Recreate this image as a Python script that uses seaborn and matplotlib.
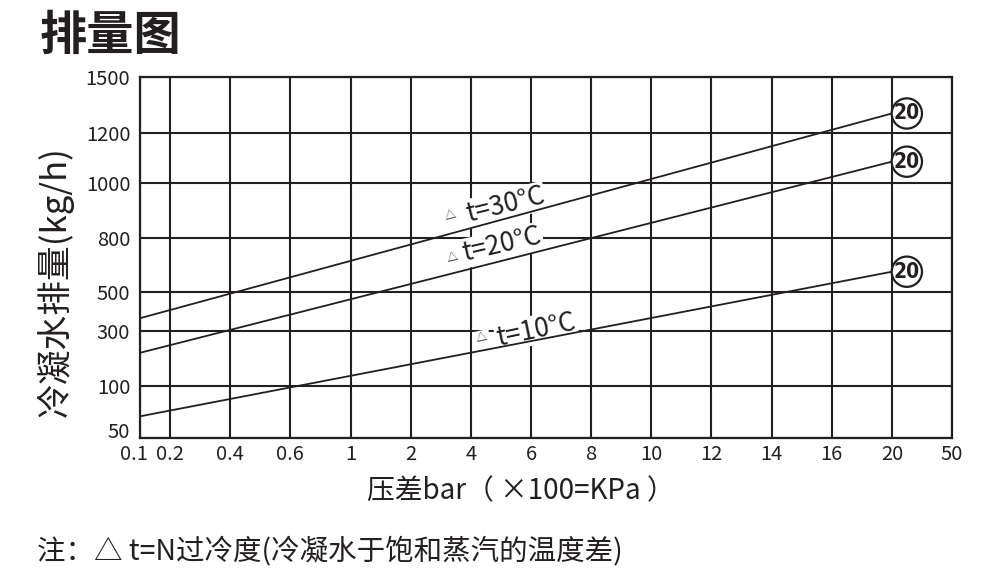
import numpy as np
import matplotlib
matplotlib.use("Agg")
import matplotlib.pyplot as plt
import matplotlib.transforms as mtrans
import seaborn as sns
import pandas as pd

# ---------------- data ----------------
pressure_ticks = [0.1, 0.2, 0.4, 0.6, 1, 2, 4, 6, 8, 10, 12, 14, 16, 20, 50]
pressure_tick_labels = ["0.1", "0.2", "0.4", "0.6", "1", "2", "4", "6", "8",
                        "10", "12", "14", "16", "20", "50"]
flow_ticks = [50, 100, 300, 500, 800, 1000, 1200, 1500]
flow_tick_labels = ["50", "100", "300", "500", "800", "1000", "1200", "1500"]

pressure_points = [0.1, 20]
flow_dt30 = [365, 1305]
flow_dt20 = [220, 1085]
flow_dt10 = [71, 613]
series_labels = ["t=30°C", "t=20°C", "t=10°C"]
orifice_label = "20"

title_text = "排量图"
ylabel_text = "冷凝水排量(kg/h)"
xlabel_text = "压差bar（ ×100=KPa ）"
note_text = "注：△ t=N过冷度(冷凝水于饱和蒸汽的温度差)"

# ---------------- chart's custom (non-uniform) axis scales ----------------
x_scale_pos = [-0.5] + list(range(14))
y_scale_pos = [0, 52.3, 107.6, 146, 200.6, 255.6, 305, 361.6]


def fx(v):
    return np.interp(v, pressure_ticks, x_scale_pos)


def fx_inv(p):
    return np.interp(p, x_scale_pos, pressure_ticks)


def fy(v):
    return np.interp(v, flow_ticks, y_scale_pos)


def fy_inv(p):
    return np.interp(p, y_scale_pos, flow_ticks)


sns.set_style("white")
plt.rcParams["font.family"] = ["Noto Sans CJK SC", "DejaVu Sans"]
INK = "#231f20"

fig = plt.figure(figsize=(10, 5.84), dpi=100)
ax = fig.add_axes([0.14, 0.2495, 0.812, 0.6192])
ax.set_xscale("function", functions=(fx, fx_inv))
ax.set_yscale("function", functions=(fy, fy_inv))
ax.set_xlim(pressure_ticks[0], pressure_ticks[-1])
ax.set_ylim(flow_ticks[0], flow_ticks[-1])

for flows in (flow_dt30, flow_dt20, flow_dt10):
    df = pd.DataFrame({"dp": pressure_points, "flow": flows})
    sns.lineplot(data=df, x="dp", y="flow", ax=ax, color=INK, lw=1.3,
                 zorder=4, sort=False, estimator=None)

ax.set_xticks(pressure_ticks)
ax.set_xticklabels(pressure_tick_labels)
ax.set_yticks(flow_ticks)
ax.set_yticklabels(flow_tick_labels)
ax.minorticks_off()
ax.set_xlabel("")
ax.set_ylabel("")
ax.set_axisbelow(True)
ax.grid(True, color=INK, lw=1.5)
for s in ax.spines.values():
    s.set_color(INK)
    s.set_linewidth(1.6)
ax.tick_params(axis="y", length=5, width=1.5, color=INK, pad=2,
               labelsize=14.5, labelcolor=INK)
ax.tick_params(axis="x", length=0, pad=4, labelsize=14.5, labelcolor=INK)
# lowest y label sits on the axis line, first x label nudged left (as in reference)
ax.get_yticklabels()[0].set_verticalalignment("baseline")
first_x = ax.get_xticklabels()[0]
first_x.set_transform(first_x.get_transform() +
                      mtrans.ScaledTranslation(-6 / 100, 0, fig.dpi_scale_trans))

# circled orifice size at the line ends
for flows in (flow_dt30, flow_dt20, flow_dt10):
    ax.annotate(orifice_label, xy=(pressure_points[-1], flows[-1]),
                xytext=(15, 0), textcoords="offset pixels",
                ha="center", va="center", fontsize=15, fontweight="bold",
                family="DejaVu Sans", fontstretch="condensed",
                color=INK, zorder=6,
                bbox=dict(boxstyle="circle,pad=0.1", fc="white", ec=INK, lw=1.6))

# series labels (axes-fraction placement)
label_pos = [(0.4495, 0.645, 14), (0.4458, 0.5346, 13), (0.4877, 0.300, 12)]
tri_pos = [(0.3826, 0.6156), (0.3842, 0.4979), (0.4208, 0.2765)]
for lab, (lx, ly, rot), (tx, ty) in zip(series_labels, label_pos, tri_pos):
    ax.text(lx, ly, lab, transform=ax.transAxes, rotation=rot,
            rotation_mode="anchor", ha="center", va="center",
            fontsize=19, color=INK, zorder=3,
            bbox=dict(fc="white", ec="none", pad=1))
    ax.text(tx, ty, "△", transform=ax.transAxes, rotation=rot,
            rotation_mode="anchor", ha="center", va="center",
            fontsize=8, color=INK, zorder=3,
            bbox=dict(fc="white", ec="none", pad=2))

fig.text(0.04, 1 - 36 / 584, title_text, fontsize=34, fontweight="bold",
         color=INK, ha="left", va="center")
fig.text(0.055, 1 - 282 / 584, ylabel_text, rotation=90, fontsize=25,
         color=INK, ha="center", va="center")
fig.text(0.521, 1 - 491 / 584, xlabel_text, fontsize=20, color=INK,
         ha="center", va="center")
fig.text(0.037, 1 - 551 / 584, note_text, fontsize=20.5, color=INK,
         ha="left", va="center")

fig.savefig("out.png", dpi=100)
